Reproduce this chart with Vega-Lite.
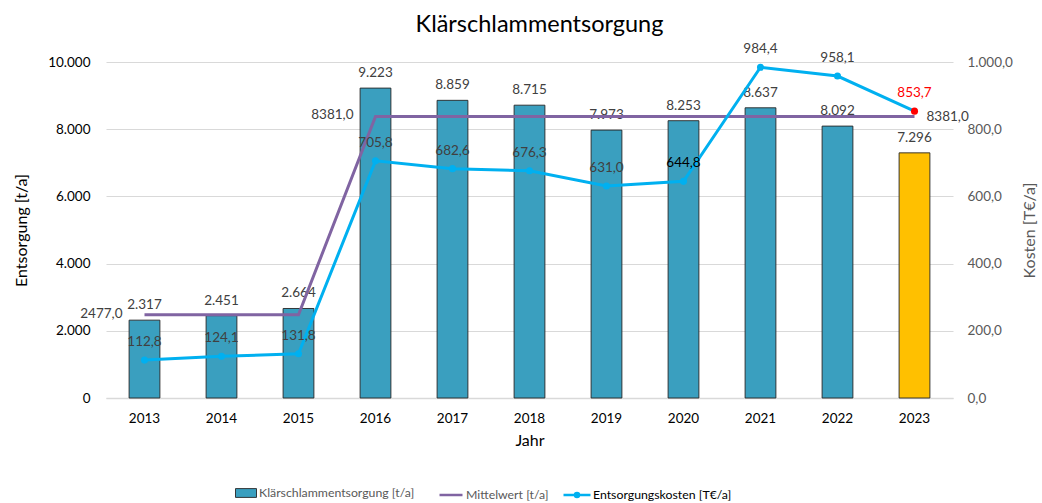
{
  "$schema": "https://vega.github.io/schema/vega-lite/v6.json",
  "width": 847,
  "height": 336,
  "autosize": {"type": "none"},
  "padding": {"left": 106, "top": 62, "right": 89, "bottom": 105},
  "background": "#ffffff",
  "title": {
    "text": "Klärschlammentsorgung",
    "font": "Lato",
    "fontSize": 23.5,
    "fontWeight": "normal",
    "color": "#000000",
    "anchor": "middle",
    "dx": 10,
    "offset": 6
  },
  "data": {
    "values": [
      {"year": "2013", "menge": 2317, "mittel": 2477, "kosten": 112.8},
      {"year": "2014", "menge": 2451, "mittel": 2477, "kosten": 124.1},
      {"year": "2015", "menge": 2664, "mittel": 2477, "kosten": 131.8},
      {"year": "2016", "menge": 9223, "mittel": 8381, "kosten": 705.8},
      {"year": "2017", "menge": 8859, "mittel": 8381, "kosten": 682.6},
      {"year": "2018", "menge": 8715, "mittel": 8381, "kosten": 676.3},
      {"year": "2019", "menge": 7973, "mittel": 8381, "kosten": 631.0},
      {"year": "2020", "menge": 8253, "mittel": 8381, "kosten": 644.8},
      {"year": "2021", "menge": 8637, "mittel": 8381, "kosten": 984.4},
      {"year": "2022", "menge": 8092, "mittel": 8381, "kosten": 958.1},
      {"year": "2023", "menge": 7296, "mittel": 8381, "kosten": 853.7}
    ]
  },
  "encoding": {
    "x": {
      "field": "year",
      "type": "ordinal",
      "scale": {"paddingInner": 0.6, "paddingOuter": 0.3},
      "axis": {
        "title": "Jahr",
        "labelAngle": 0,
        "labelFont": "Lato",
        "labelFontSize": 13.5,
        "labelColor": "#000000",
        "labelPadding": 13,
        "ticks": false,
        "domainColor": "#D9D9D9",
        "domainWidth": 1.5,
        "titleFont": "Lato",
        "titleFontSize": 16,
        "titleFontWeight": "normal",
        "titleColor": "#000000",
        "titlePadding": 8
      }
    }
  },
  "layer": [
    {
      "encoding": {
        "y": {
          "type": "quantitative",
          "scale": {"domain": [0, 10000], "nice": false},
          "axis": {
            "title": "Entsorgung [t/a]",
            "values": [0, 2000, 4000, 6000, 8000, 10000],
            "format": ",d",
            "grid": true,
            "gridColor": "#D9D9D9",
            "gridWidth": 1,
            "domain": false,
            "ticks": false,
            "labelFont": "Lato",
            "labelFontSize": 13.5,
            "labelColor": "#000000",
            "labelPadding": 16,
            "titleFont": "Lato",
            "titleFontSize": 16,
            "titleFontWeight": "normal",
            "titleColor": "#000000",
            "titlePadding": 18
          }
        }
      },
      "layer": [
        {
          "mark": {"type": "bar", "stroke": "#262626", "strokeWidth": 0.9},
          "encoding": {
            "y": {"field": "menge"},
            "fill": {
              "condition": {"test": "datum.year === '2023'", "value": "#FFC000"},
              "datum": "Klärschlammentsorgung [t/a]",
              "type": "nominal",
              "scale": {"domain": ["Klärschlammentsorgung [t/a]"], "range": ["#3A9FBF"]},
              "legend": {
                "orient": "none",
                "legendX": 129,
                "legendY": 420,
                "title": null,
                "symbolType": "M-1,-0.42H1V0.42H-1Z",
                "symbolSize": 441,
                "symbolStrokeColor": "#262626",
                "symbolStrokeWidth": 0.9,
                "symbolOpacity": 1,
                "labelFont": "Lato",
                "labelFontSize": 12.3,
                "labelColor": "#595959",
                "labelLimit": 300,
                "labelOffset": 2
              }
            }
          }
        },
        {
          "mark": {"type": "text", "baseline": "bottom", "dy": -8, "font": "Lato", "fontSize": 13.5, "color": "#404040"},
          "encoding": {
            "y": {"field": "menge"},
            "text": {"field": "menge", "type": "quantitative", "format": ",d"}
          }
        },
        {
          "mark": {"type": "line", "strokeWidth": 3},
          "encoding": {
            "y": {"field": "mittel"},
            "stroke": {
              "datum": "Mittelwert [t/a]",
              "type": "nominal",
              "scale": {"domain": ["Mittelwert [t/a]"], "range": ["#8064A2"]},
              "legend": {
                "orient": "none",
                "legendX": 332,
                "legendY": 420,
                "title": null,
                "symbolType": "stroke",
                "symbolSize": 529,
                "symbolStrokeWidth": 2.5,
                "symbolOpacity": 1,
                "labelFont": "Lato",
                "labelFontSize": 12.3,
                "labelColor": "#595959",
                "labelLimit": 300,
                "labelOffset": 2
              }
            }
          }
        },
        {
          "transform": [{"filter": "datum.year === '2013' || datum.year === '2016'"}],
          "mark": {"type": "text", "align": "right", "baseline": "middle", "dx": -22, "dy": -1, "font": "Lato", "fontSize": 13.5, "color": "#404040"},
          "encoding": {
            "y": {"field": "mittel"},
            "text": {"field": "mittel", "type": "quantitative", "format": ".1f"}
          }
        },
        {
          "transform": [{"filter": "datum.year === '2023'"}],
          "mark": {"type": "text", "align": "left", "baseline": "middle", "dx": 12, "dy": 1, "font": "Lato", "fontSize": 13.5, "color": "#404040"},
          "encoding": {
            "y": {"field": "mittel"},
            "text": {"field": "mittel", "type": "quantitative", "format": ".1f"}
          }
        }
      ]
    },
    {
      "encoding": {
        "y": {
          "type": "quantitative",
          "scale": {"domain": [0, 1000], "nice": false},
          "axis": {
            "orient": "right",
            "title": "Kosten [T€/a]",
            "titleAngle": 270,
            "values": [0, 200, 400, 600, 800, 1000],
            "format": ",.1f",
            "grid": false,
            "domain": false,
            "ticks": false,
            "labelFont": "Lato",
            "labelFontSize": 13.5,
            "labelColor": "#595959",
            "labelPadding": 14,
            "titleFont": "Lato",
            "titleFontSize": 16,
            "titleFontWeight": "normal",
            "titleColor": "#595959",
            "titlePadding": 25
          }
        }
      },
      "layer": [
        {
          "mark": {"type": "line", "strokeWidth": 3},
          "encoding": {
            "y": {"field": "kosten"},
            "color": {
              "datum": "Entsorgungskosten [T€/a]",
              "type": "nominal",
              "scale": {"domain": ["Entsorgungskosten [T€/a]"], "range": ["#00B0F0"]},
              "legend": {
                "orient": "none",
                "legendX": 456,
                "legendY": 418,
                "title": null,
                "symbolType": "M-1,0H1M-0.15,0A0.15,0.15 0 1,0 0.15,0A0.15,0.15 0 1,0 -0.15,0Z",
                "symbolSize": 729,
                "symbolStrokeWidth": 2.5,
                "symbolFillColor": "#00B0F0",
                "symbolStrokeColor": "#00B0F0",
                "symbolOpacity": 1,
                "labelFont": "Lato",
                "labelFontSize": 12.3,
                "labelColor": "#000000",
                "labelLimit": 300,
                "labelOffset": 1
              }
            }
          }
        },
        {
          "mark": {"type": "point", "filled": true, "size": 50, "opacity": 1},
          "encoding": {
            "y": {"field": "kosten"},
            "color": {"condition": {"test": "datum.year === '2023'", "value": "#FF0000"}, "value": "#00B0F0"}
          }
        },
        {
          "mark": {"type": "text", "baseline": "bottom", "dy": -11, "font": "Lato", "fontSize": 13.5},
          "encoding": {
            "y": {"field": "kosten"},
            "text": {"field": "kosten", "type": "quantitative", "format": ".1f"},
            "color": {
              "condition": [
                {"test": "datum.year === '2023'", "value": "#FF0000"},
                {"test": "datum.year === '2020'", "value": "#000000"}
              ],
              "value": "#404040"
            }
          }
        }
      ]
    }
  ],
  "resolve": {"scale": {"y": "independent"}},
  "config": {
    "locale": {"number": {"decimal": ",", "thousands": ".", "grouping": [3], "currency": ["", " €"]}},
    "view": {"stroke": null}
  }
}
